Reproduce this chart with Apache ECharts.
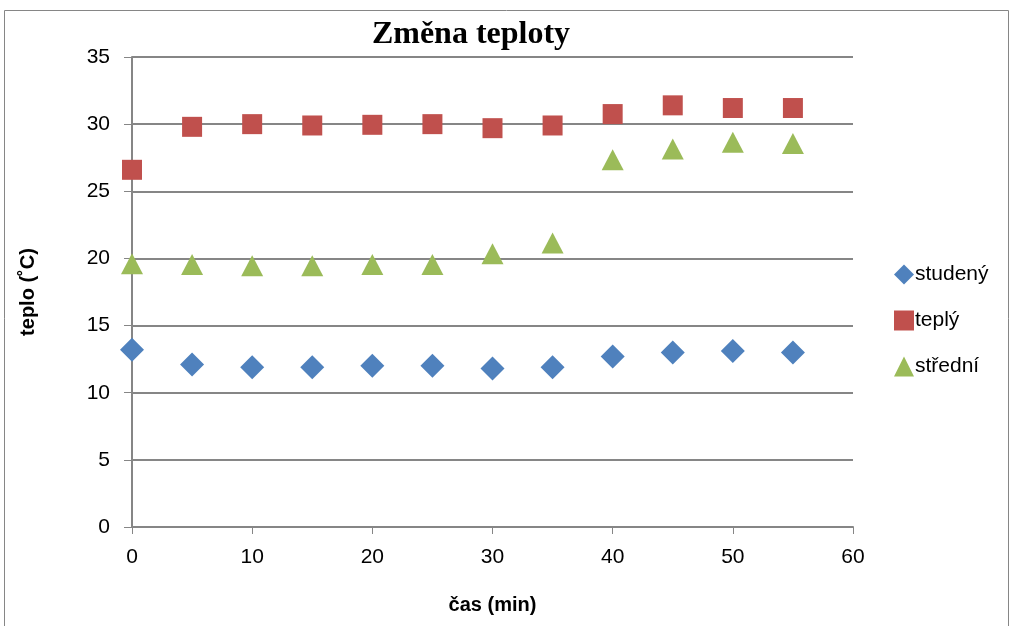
<!DOCTYPE html>
<html>
<head>
<meta charset="utf-8">
<script src="https://cdn.jsdelivr.net/npm/echarts@6/dist/echarts.min.js"></script>
<style>
  html, body { margin: 0; padding: 0; background: #fff; }
  #chart { width: 1016px; height: 626px; }
</style>
</head>
<body>
<div id="chart"></div>
<script>
const times = [0, 5, 10, 15, 20, 25, 30, 35, 40, 45, 50, 55];
const studeny = [13.2, 12.1, 11.9, 11.9, 12.0, 12.0, 11.8, 11.9, 12.7, 13.0, 13.1, 13.0];
const teply = [26.6, 29.8, 30.0, 29.9, 29.95, 30.0, 29.7, 29.9, 30.75, 31.4, 31.2, 31.2];
const stredni = [19.6, 19.55, 19.45, 19.45, 19.55, 19.55, 20.35, 21.15, 27.35, 28.15, 28.65, 28.55];

const pairs = (ys) => times.map((t, i) => [t, ys[i]]);
const font = '"Liberation Sans Narrow", "Liberation Sans", sans-serif';

const chart = echarts.init(document.getElementById("chart"), null, { renderer: "canvas" });

chart.setOption({
  animation: false,
  title: {
    text: "Změna teploty",
    left: 466,
    top: 14,
    textAlign: "center",
    textStyle: { fontFamily: '"Liberation Serif", serif', fontWeight: "bold", fontSize: 32, color: "#000" },
  },
  grid: { left: 132, right: 163, top: 57, bottom: 99 },
  legend: {
    orient: "vertical",
    left: 889,
    top: 259,
    itemGap: 25,
    itemWidth: 20,
    itemHeight: 20,
    textStyle: { fontFamily: font, fontSize: 21, color: "#000", padding: [0, 0, 0, -4] },
    data: [
      { name: "studený", itemStyle: { opacity: 1 } },
      { name: "teplý", itemStyle: { opacity: 1 } },
      { name: "střední", itemStyle: { opacity: 1 } },
    ],
  },
  xAxis: {
    type: "value",
    min: 0,
    max: 60,
    interval: 10,
    name: "čas (min)",
    nameLocation: "middle",
    nameGap: 68,
    nameTextStyle: { fontFamily: font, fontWeight: "bold", fontSize: 20, color: "#000" },
    axisLine: { lineStyle: { color: "#868686", width: 2 } },
    axisTick: { show: true, length: 7, lineStyle: { color: "#868686" } },
    axisLabel: { fontFamily: font, fontSize: 21, color: "#000", margin: 20 },
    splitLine: { show: false },
  },
  yAxis: {
    type: "value",
    min: 0,
    max: 35,
    interval: 5,
    name: "teplo (˚C)",
    nameLocation: "middle",
    nameGap: 94,
    nameRotate: 90,
    nameTextStyle: { fontFamily: font, fontWeight: "bold", fontSize: 20, color: "#000" },
    axisLine: { show: true, lineStyle: { color: "#868686", width: 2 } },
    axisTick: { show: true, length: 8, lineStyle: { color: "#868686" } },
    axisLabel: { fontFamily: font, fontSize: 21, color: "#000", margin: 22 },
    splitLine: { lineStyle: { color: "#868686", width: 2 } },
  },
  series: [
    {
      name: "studený",
      type: "scatter",
      symbol: "diamond",
      symbolSize: [24, 24],
      itemStyle: { color: "#4F81BD", opacity: 1 },
      data: pairs(studeny),
    },
    {
      name: "teplý",
      type: "scatter",
      symbol: "rect",
      symbolSize: 20,
      itemStyle: { color: "#C0504D", opacity: 1 },
      data: pairs(teply),
    },
    {
      name: "střední",
      type: "scatter",
      symbol: "triangle",
      symbolSize: [22, 21],
      itemStyle: { color: "#9BBB59", opacity: 1 },
      data: pairs(stredni),
    },
  ],
  graphic: [
    {
      type: "rect",
      shape: { x: 4.5, y: 10.5, width: 1004, height: 630 },
      style: { fill: "none", stroke: "#868686", lineWidth: 1 },
      silent: true,
    },
  ],
});
</script>
</body>
</html>
